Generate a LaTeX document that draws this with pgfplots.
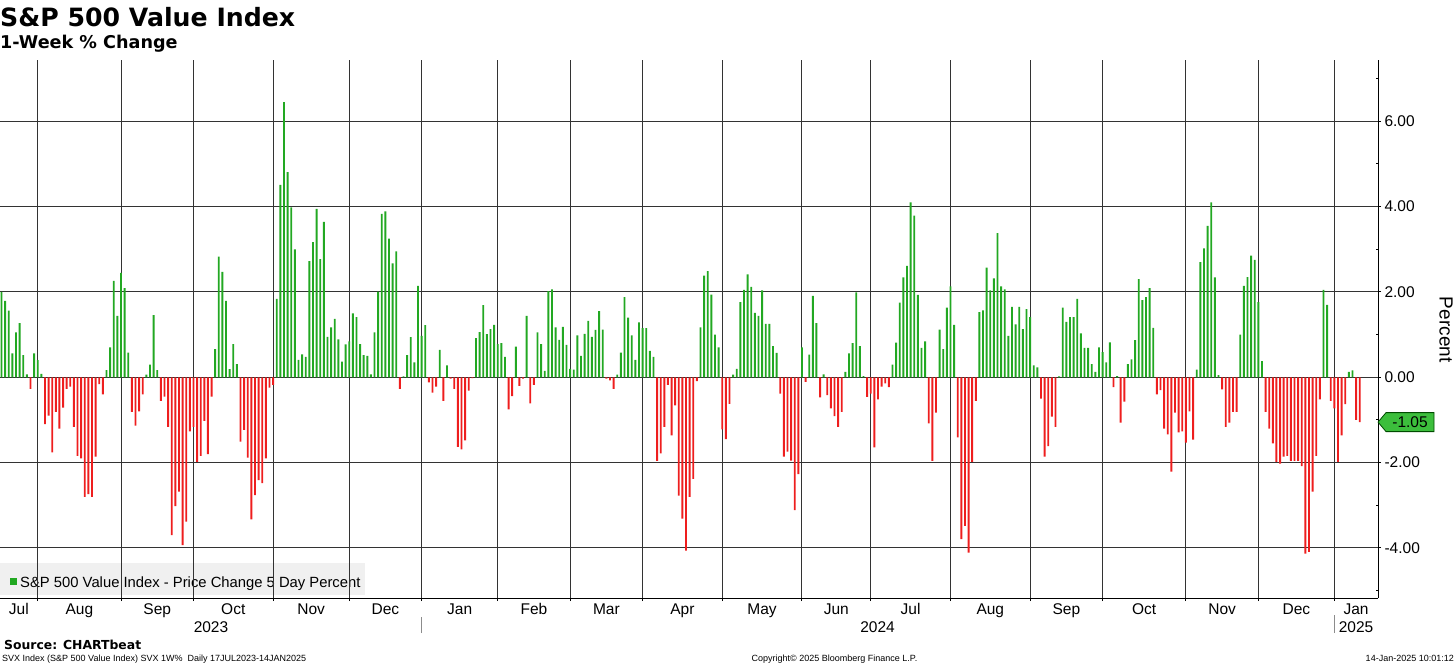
\documentclass[border=0pt]{standalone}
\usepackage{pgfplots}
\pgfplotsset{compat=1.18}
\usepackage{pgfplotstable}
\usepackage{fontspec}
\setmainfont{Liberation Sans}
\newfontfamily\verd{DejaVu Sans}
\definecolor{bargreen}{RGB}{34,168,34}
\definecolor{barred}{RGB}{238,30,30}
\definecolor{taggreen}{RGB}{60,190,60}
\definecolor{legbg}{RGB}{240,240,240}
\newcommand\fs[1]{\fontsize{#1}{#1}\selectfont}

% 5-day % change, one row per trading day (index 1 = 18 Jul 2023 ... 376 = 14 Jan 2025)
\pgfplotstableread[row sep=\\]{
i v\\
1 2.00\\ 2 1.79\\ 3 1.56\\ 4 0.56\\ 5 1.05\\ 6 1.27\\ 7 0.52\\ 8 0.07\\ 9 -0.27\\ 10 0.56\\
11 0.40\\ 12 0.08\\ 13 -1.10\\ 14 -0.90\\ 15 -1.76\\ 16 -0.81\\ 17 -1.20\\ 18 -0.71\\ 19 -0.27\\ 20 -0.22\\
21 -1.16\\ 22 -1.84\\ 23 -1.90\\ 24 -2.80\\ 25 -2.74\\ 26 -2.80\\ 27 -1.86\\ 28 -0.16\\ 29 -0.40\\ 30 0.17\\
31 0.70\\ 32 2.26\\ 33 1.44\\ 34 2.45\\ 35 2.09\\ 36 0.58\\ 37 -0.81\\ 38 -1.13\\ 39 -0.80\\ 40 -0.40\\
41 0.06\\ 42 0.30\\ 43 1.46\\ 44 0.17\\ 45 -0.55\\ 46 -0.45\\ 47 -1.16\\ 48 -3.70\\ 49 -3.02\\ 50 -2.68\\
51 -3.93\\ 52 -3.38\\ 53 -1.27\\ 54 -1.16\\ 55 -1.98\\ 56 -1.84\\ 57 -1.02\\ 58 -1.80\\ 59 -0.45\\ 60 0.66\\
61 2.83\\ 62 2.47\\ 63 1.79\\ 64 0.19\\ 65 0.78\\ 66 0.31\\ 67 -1.51\\ 68 -1.23\\ 69 -1.88\\ 70 -3.33\\
71 -2.76\\ 72 -2.41\\ 73 -2.48\\ 74 -1.90\\ 75 -0.24\\ 76 -0.18\\ 77 1.84\\ 78 4.51\\ 79 6.45\\ 80 4.81\\
81 3.98\\ 82 3.00\\ 83 0.41\\ 84 0.54\\ 85 0.48\\ 86 2.72\\ 87 3.17\\ 88 3.95\\ 89 2.77\\ 90 3.64\\
91 0.95\\ 92 1.17\\ 93 1.37\\ 94 0.89\\ 95 0.37\\ 96 0.77\\ 97 0.84\\ 98 1.50\\ 99 1.41\\ 100 0.78\\
101 0.52\\ 102 0.50\\ 103 0.07\\ 104 1.05\\ 105 2.01\\ 106 3.83\\ 107 3.89\\ 108 3.25\\ 109 2.67\\ 110 2.95\\
111 -0.27\\ 112 0.02\\ 113 0.52\\ 114 0.94\\ 115 0.35\\ 116 2.14\\ 117 0.97\\ 118 1.22\\ 119 -0.12\\ 120 -0.36\\
121 -0.22\\ 122 0.64\\ 123 -0.55\\ 124 0.28\\ 125 -0.03\\ 126 -0.27\\ 127 -1.63\\ 128 -1.69\\ 129 -1.48\\ 130 -0.31\\
131 -0.02\\ 132 0.92\\ 133 1.06\\ 134 1.69\\ 135 1.01\\ 136 1.13\\ 137 1.23\\ 138 0.78\\ 139 0.80\\ 140 0.48\\
141 -0.75\\ 142 -0.44\\ 143 0.72\\ 144 -0.20\\ 145 -0.03\\ 146 1.44\\ 147 -0.61\\ 148 -0.18\\ 149 1.05\\ 150 0.78\\
151 0.15\\ 152 2.02\\ 153 2.06\\ 154 1.17\\ 155 0.88\\ 156 1.18\\ 157 0.76\\ 158 0.20\\ 159 0.18\\ 160 0.98\\
161 0.50\\ 162 1.02\\ 163 1.32\\ 164 0.95\\ 165 1.11\\ 166 1.55\\ 167 1.12\\ 168 -0.03\\ 169 -0.07\\ 170 -0.27\\
171 0.06\\ 172 0.58\\ 173 1.88\\ 174 1.40\\ 175 0.98\\ 176 0.41\\ 177 1.29\\ 178 1.15\\ 179 1.15\\ 180 0.62\\
181 0.48\\ 182 -1.96\\ 183 -1.78\\ 184 -1.16\\ 185 -0.18\\ 186 -1.36\\ 187 -0.66\\ 188 -2.77\\ 189 -3.31\\ 190 -4.06\\
191 -2.80\\ 192 -2.38\\ 193 -0.09\\ 194 1.17\\ 195 2.38\\ 196 2.49\\ 197 1.94\\ 198 1.00\\ 199 0.70\\ 200 -1.22\\
201 -1.45\\ 202 -0.62\\ 203 0.06\\ 204 0.20\\ 205 1.76\\ 206 2.05\\ 207 2.41\\ 208 2.12\\ 209 1.51\\ 210 1.44\\
211 2.04\\ 212 1.25\\ 213 1.25\\ 214 0.73\\ 215 0.57\\ 216 -0.38\\ 217 -1.86\\ 218 -1.74\\ 219 -1.95\\ 220 -3.11\\
221 -2.27\\ 222 0.70\\ 223 -0.11\\ 224 0.53\\ 225 1.91\\ 226 1.27\\ 227 -0.47\\ 228 0.07\\ 229 -0.42\\ 230 -0.73\\
231 -0.91\\ 232 -1.16\\ 233 -0.81\\ 234 0.13\\ 235 0.56\\ 236 0.80\\ 237 1.99\\ 238 0.73\\ 239 0.03\\ 240 -0.46\\
241 -0.38\\ 242 -1.64\\ 243 -0.52\\ 244 -0.22\\ 245 -0.14\\ 246 -0.23\\ 247 0.30\\ 248 0.81\\ 249 1.75\\ 250 2.34\\
251 2.61\\ 252 4.10\\ 253 3.79\\ 254 1.93\\ 255 0.69\\ 256 0.84\\ 257 -1.08\\ 258 -1.96\\ 259 -0.83\\ 260 1.12\\
261 0.66\\ 262 1.63\\ 263 2.13\\ 264 1.23\\ 265 -1.41\\ 266 -3.79\\ 267 -3.48\\ 268 -4.11\\ 269 -1.98\\ 270 -0.55\\
271 1.53\\ 272 1.57\\ 273 2.57\\ 274 2.04\\ 275 2.32\\ 276 3.38\\ 277 2.13\\ 278 2.06\\ 279 0.97\\ 280 1.65\\
281 1.24\\ 282 1.65\\ 283 1.13\\ 284 1.60\\ 285 1.41\\ 286 0.28\\ 287 0.23\\ 288 -0.50\\ 289 -1.86\\ 290 -1.61\\
291 -0.92\\ 292 -1.16\\ 293 0.02\\ 294 1.63\\ 295 1.30\\ 296 1.41\\ 297 1.41\\ 298 1.84\\ 299 1.03\\ 300 0.69\\
301 0.69\\ 302 0.31\\ 303 0.13\\ 304 0.70\\ 305 0.59\\ 306 0.35\\ 307 0.82\\ 308 -0.23\\ 309 0.03\\ 310 -1.06\\
311 -0.57\\ 312 0.31\\ 313 0.42\\ 314 0.87\\ 315 2.30\\ 316 1.81\\ 317 1.88\\ 318 2.09\\ 319 1.16\\ 320 -0.40\\
321 -0.30\\ 322 -1.20\\ 323 -1.34\\ 324 -2.21\\ 325 -0.83\\ 326 -1.29\\ 327 -1.27\\ 328 -1.53\\ 329 -0.80\\ 330 -1.46\\
331 0.18\\ 332 2.70\\ 333 3.02\\ 334 3.55\\ 335 4.10\\ 336 2.34\\ 337 0.05\\ 338 -0.28\\ 339 -1.16\\ 340 -1.06\\
341 -0.81\\ 342 -0.81\\ 343 1.00\\ 344 2.14\\ 345 2.35\\ 346 2.85\\ 347 2.75\\ 348 1.76\\ 349 0.38\\ 350 -0.81\\
351 -1.20\\ 352 -1.55\\ 353 -1.98\\ 354 -2.02\\ 355 -1.86\\ 356 -1.84\\ 357 -1.96\\ 358 -1.96\\ 359 -1.96\\ 360 -2.08\\
361 -4.13\\ 362 -4.09\\ 363 -2.68\\ 364 -1.84\\ 365 -0.52\\ 366 2.05\\ 367 1.70\\ 368 -0.55\\ 369 -0.73\\ 370 -1.98\\
371 -1.36\\ 372 -0.63\\ 373 0.13\\ 374 0.16\\ 375 -1.00\\ 376 -1.05\\
}\svx

\begin{document}
\begin{tikzpicture}
\useasboundingbox (0,0) rectangle (1456pt,665pt);
% titles
\node[anchor=base west, inner sep=0pt, font=\verd\bfseries\fs{25.2}] at (0pt,638.3pt) {S\&P 500 Value Index};
\node[anchor=base west, inner sep=0pt, font=\verd\bfseries\fs{17.6}] at (0pt,616.7pt) {1-Week \% Change};
% legend box (under the grid)
\fill[legbg] (0pt,70pt) rectangle (365pt,102pt);
\fill[bargreen] (10pt,80pt) rectangle (17pt,87pt);
\node[anchor=base west, inner sep=0pt, font=\fs{14.8}] at (20pt,78pt) {S\&P 500 Value Index - Price Change 5 Day Percent};

\begin{axis}[
  at={(0pt,67pt)}, anchor=south west,
  scale only axis, width=1378pt, height=538pt,
  xmin=0.59, xmax=381.05, ymin=-5.172, ymax=7.436,
  axis x line*=bottom, axis y line*=right,
  axis line style={black, line width=1pt},
  xtick={11,34,54,76,97,117,138,158,178,200,222,241,263,285,305,328,348,369},
  xticklabels={},
  extra x ticks={5.8,22.5,44,65,86.5,107,127.5,148,168,189,211,231.5,252,274,295,316.5,338,358.5,375},
  extra x tick labels={Jul,Aug,Sep,Oct,Nov,Dec,Jan,Feb,Mar,Apr,May,Jun,Jul,Aug,Sep,Oct,Nov,Dec,Jan},
  extra x tick style={grid=none, major tick length=0pt},
  xticklabel style={anchor=base, yshift=-16pt, font=\fs{15.5}},
  ytick={-4,-2,0,2,4,6},
  yticklabel={\pgfmathprintnumber[fixed,fixed zerofill,precision=2,assume math mode=true]{\tick}},
  yticklabel style={anchor=west, font=\fs{15.5}},
  extra y ticks={-5,-3,-1,1,3,5,7},
  extra y tick labels={,,,,,,},
  extra y tick style={grid=none, tick align=inside, major tick length=2.5pt},
  tick align=outside, major tick length=3pt,
  xmajorgrids, ymajorgrids,
  grid style={black!80, line width=1pt},
  tick style={black, line width=1pt},
]
\addplot[ybar, bar width=0.52, bar shift=0pt, fill=bargreen, draw=none,
  restrict y to domain=0:100] table[x=i, y=v] {\svx};
\addplot[ybar, bar width=0.52, bar shift=0pt, fill=barred, draw=none,
  restrict y to domain=-100:0] table[x=i, y=v] {\svx};
\coordinate (tagtip) at (axis cs:381.05,-1.05);
\end{axis}

% last-value tag
\draw[fill=taggreen, draw=black!50!green!60!black, line width=0.8pt]
  (tagtip) -- ++(8pt,9.5pt) -- ++(48pt,0pt) -- ++(0pt,-19pt) -- ++(-48pt,0pt) -- cycle;
\node[font=\fs{15.5}, inner sep=0pt] at ([xshift=32pt]tagtip) {-1.05};
% axis title
\node[rotate=-90, font=\fs{19}, inner sep=0pt] at (1446pt,335.3pt) {Percent};
% year labels and separators
\draw[black!45, line width=1pt] (421.3pt,32pt) -- (421.3pt,48pt);
\draw[black!45, line width=1pt] (1334.5pt,32pt) -- (1334.5pt,50pt);
\node[anchor=base, inner sep=0pt, font=\fs{15.5}] at (211pt,33pt) {2023};
\node[anchor=base, inner sep=0pt, font=\fs{15.5}] at (877.5pt,33pt) {2024};
\node[anchor=base, inner sep=0pt, font=\fs{15.5}] at (1356pt,33pt) {2025};
% footer
\node[anchor=base west, inner sep=0pt, font=\verd\bfseries\fs{12.4}] at (4pt,15.7pt) {Source: CHARTbeat};
\node[anchor=base west, inner sep=0pt, font=\fs{9}] at (2pt,4pt) {SVX Index (S\&P 500 Value Index) SVX 1W\%\ \ Daily 17JUL2023-14JAN2025};
\node[anchor=base, inner sep=0pt, font=\fs{9}] at (834.5pt,4pt) {Copyright\textcopyright{} 2025 Bloomberg Finance L.P.};
\node[anchor=base east, inner sep=0pt, font=\fs{9}] at (1454pt,4pt) {14-Jan-2025 10:01:12};
\end{tikzpicture}
\end{document}
